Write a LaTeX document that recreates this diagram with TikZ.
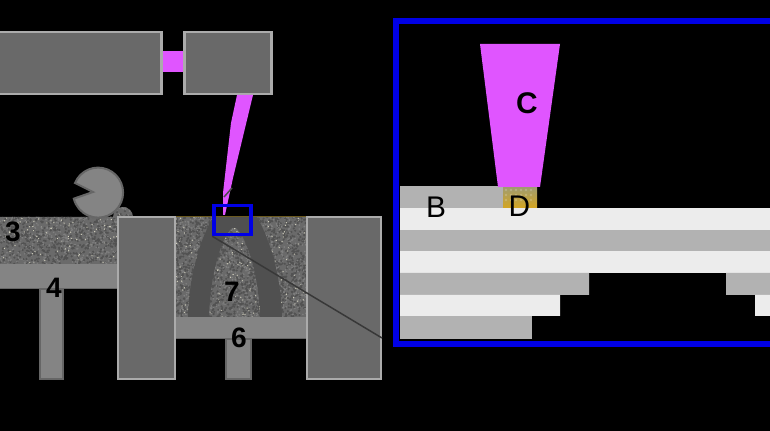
\documentclass[tikz,border=0pt]{standalone}
\usepackage{fontspec}
\setmainfont{Liberation Sans}
\usepackage{tikz}
\usetikzlibrary{positioning}
\usepackage{xcolor}
\definecolor{blockgray}{HTML}{696969}
\definecolor{blockedge}{HTML}{ABABAB}
\definecolor{platform}{HTML}{848484}
\definecolor{platedge}{HTML}{666666}
\definecolor{laserpink}{HTML}{E055FF}
\definecolor{zoomblue}{HTML}{0000E6}
\definecolor{archgray}{HTML}{505050}
\definecolor{powderbase}{HTML}{6A6A6A}
\definecolor{layerdark}{HTML}{B2B2B2}
\definecolor{layerlight}{HTML}{ECECEC}
\definecolor{meltgold}{HTML}{D4A520}
\definecolor{meltgray}{HTML}{A09C70}
\definecolor{sinterline}{HTML}{6B5A20}
% speckle grains scattered over the current clip: x0, y0, w, h, count
\newcommand{\powdergrains}[5]{%
  \foreach \g in {1,...,#5}{
    \pgfmathsetmacro{\gx}{#1+rnd*#3}
    \pgfmathsetmacro{\gy}{#2+rnd*#4}
    \pgfmathsetmacro{\gs}{int(rnd*100)}
    \ifnum\gs<55
      \fill[black!68] (\gx,\gy) circle (1.2);
    \else\ifnum\gs<92
      \fill[white!50!black] (\gx,\gy) circle (0.9);
    \else
      \fill[yellow!12!white!80!black] (\gx,\gy) circle (0.7);
    \fi\fi
  }}
\begin{document}
\begin{tikzpicture}[
  x=0.02cm, y=-0.02cm,
  block/.style={fill=blockgray, draw=blockedge, line width=0.05cm},
  plate/.style={fill=platform, draw=platedge, line width=0.03cm},
  laser/.style={fill=laserpink, draw=none},
  layerd/.style={fill=layerdark, draw=none},
  layerl/.style={fill=layerlight, draw=none},
  digit/.style={font=\fontsize{16}{16}\selectfont\bfseries, text=black, inner sep=0pt},
  letter/.style={font=\fontsize{17}{17}\selectfont, text=black, inner sep=0pt},
  zoombox/.style={draw=zoomblue, line width=0.07cm, minimum width=0.74cm,
                  minimum height=0.58cm, inner sep=0pt},
]
  \useasboundingbox (0,0) rectangle (770,431);
  \clip (0,0) rectangle (770,431);
  \fill[black] (0,0) rectangle (770,431);
  \pgfmathsetseed{4217}

  %% Laser source and scan head
  \fill[laser] (160,51) rectangle (186,72);
  \draw[block] (-5,32) rectangle (161.5,94);
  \draw[block] (184.5,32) rectangle (271.5,94);

  %% Beam towards the bed
  \fill[laser] (237,95) -- (253,95) -- (233,178) -- (225,215) -- (223,215)
    -- (223,193) -- (231,123) -- cycle;
  \draw[black!70, line width=0.03cm] (224,197) -- (232,188);

  %% Feed powder
  \begin{scope}
    \clip (0,217) rectangle (119,264)
          (113,217) arc[start angle=180, end angle=360, radius=10] -- cycle;
    \fill[powderbase] (0,205) rectangle (135,264);
    \powdergrains{0}{205}{135}{59}{1500}
  \end{scope}

  %% Powder bed
  \begin{scope}
    \clip (175,217) rectangle (306,317);
    \fill[powderbase] (175,217) rectangle (306,317);
    \powdergrains{175}{217}{131}{100}{2700}
  \end{scope}
  \fill[archgray] (188,317) .. controls (189,275) and (200,240) .. (213,217)
    -- (257,217) .. controls (270,240) and (281,275) .. (282,317)
    -- (260,317) .. controls (259,275) and (247,240) .. (238,230)
    .. controls (236,227) and (232,227) .. (230,230)
    .. controls (221,240) and (210,275) .. (209,317) -- cycle;
  \draw[sinterline, line width=0.02cm] (175,217) -- (306,217);

  %% Feed piston and build piston
  \draw[plate] (40,289) rectangle (63,379);
  \fill[platform] (-5,264) rectangle (118,288);
  \draw[platedge, line width=0.03cm] (-5,288.5) -- (40,288.5) (63,288.5) -- (118,288.5);
  \draw[plate] (226,339) rectangle (251,379);
  \fill[platform] (175,317) rectangle (306,338);
  \draw[platedge, line width=0.03cm] (175,338.5) -- (226,338.5) (251,338.5) -- (306,338.5);

  %% Side walls
  \draw[block] (118,217) rectangle (175,379);
  \draw[block] (307,217) rectangle (381,379);

  %% Roller
  \draw[fill=platform, draw=platedge, line width=0.04cm]
    (75,183) arc[start angle=202.6, delta angle=323.4, radius=25]
    -- (93,192) -- cycle;

  %% Zoom window and its leader
  \node[zoombox] (zoomwin) at (232.5,220) {};
  \coordinate (leaderend) at (382,338);
  \draw[black!78, line width=0.03cm] (zoomwin.south west) -- (leaderend);

  %% Inset: build layers
  \fill[layerd] (400,186) rectangle (503,208);
  \fill[layerl] (400,208) rectangle (770,230);
  \fill[layerd] (400,230) rectangle (770,251);
  \fill[layerl] (400,251) rectangle (770,273);
  \fill[layerd] (400,273) rectangle (589,295) (726,273) rectangle (770,295);
  \fill[layerl] (400,295) rectangle (560,316) (755,295) rectangle (770,316);
  \fill[layerd] (400,316) rectangle (532,339);

  %% Inset: melt pool and beam
  \shade[top color=meltgray, bottom color=meltgold] (503,187) rectangle (537,208);
  \foreach \mx in {506,511,...,535}
    \foreach \my in {190,195,200}
      \fill[white, opacity=0.2] (\mx,\my) circle (1.3);
  \fill[laser] (480,44) -- (560,44) -- (540,187) -- (498,187) -- cycle;
  \draw[zoomblue, line width=0.12cm] (800,21) -- (396,21) -- (396,344) -- (800,344);

  %% Labels
  \node[digit] (lab3) at (13,232) {3};
  \node[digit] (lab4) at (54,288) {4};
  \node[digit] (lab7) at (232,292) {7};
  \node[digit] (lab6) at (239,338) {6};
  \node[letter, font=\fontsize{17}{17}\selectfont\bfseries] (labC) at (527,103) {C};
  \node[letter] (labB) at (436,207) {B};
  \node[letter] (labD) at (519.5,206) {D};
\end{tikzpicture}
\end{document}
